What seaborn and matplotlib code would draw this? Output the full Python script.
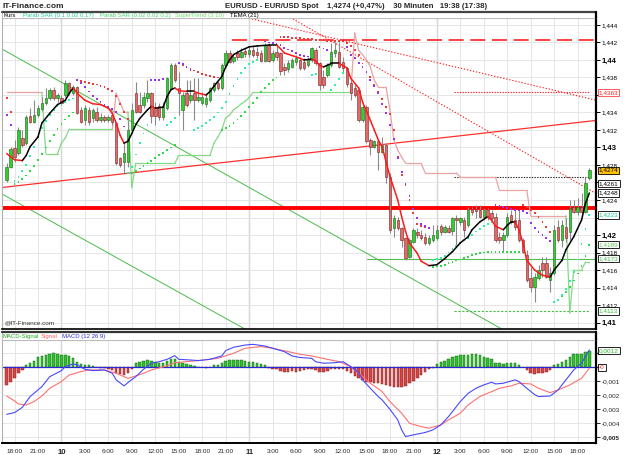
import numpy as np
import matplotlib
matplotlib.use("Agg")
import matplotlib.pyplot as plt
import seaborn as sns
from matplotlib.patches import Rectangle
from matplotlib.lines import Line2D

sns.set_theme(style="white")
plt.rcParams['font.family'] = ['Liberation Sans', 'DejaVu Sans']

# ---------------- data (30 min candles, 9th 17:00 -> 12th 19:30) ----------------
opens = [1.4263, 1.4278, 1.4299, 1.4294, 1.4311, 1.4305, 1.4336, 1.4329, 1.4337, 1.4344,
         1.4351, 1.4357, 1.4366, 1.4357, 1.4357, 1.4360, 1.4374, 1.4362, 1.4369, 1.4343,
         1.4331, 1.4343, 1.4334, 1.4341, 1.4331, 1.4335, 1.4331, 1.4337, 1.4328, 1.4288,
         1.4283, 1.4283, 1.4320, 1.4362, 1.4349, 1.4349, 1.4357, 1.4362, 1.4345, 1.4347,
         1.4335, 1.4345, 1.4367, 1.4394, 1.4368, 1.4343, 1.4362, 1.4354, 1.4362, 1.4354,
         1.4351, 1.4350, 1.4354, 1.4366, 1.4374, 1.4368, 1.4394, 1.4408, 1.4399, 1.4408,
         1.4403, 1.4410, 1.4407, 1.4411, 1.4409, 1.4408, 1.4399, 1.4417, 1.4400, 1.4409,
         1.4408, 1.4392, 1.4390, 1.4392, 1.4398, 1.4400, 1.4398, 1.4394, 1.4400, 1.4411,
         1.4397, 1.4381, 1.4383, 1.4394, 1.4408, 1.4409, 1.4398, 1.4391, 1.4374, 1.4368,
         1.4366, 1.4331, 1.4346, 1.4309, 1.4301, 1.4307, 1.4295, 1.4303, 1.4266, 1.4208,
         1.4217, 1.4208, 1.4197, 1.4175, 1.4192, 1.4203, 1.4200, 1.4198, 1.4191, 1.4194,
         1.4197, 1.4210, 1.4203, 1.4208, 1.4205, 1.4219, 1.4215, 1.4217, 1.4211, 1.4230,
         1.4230, 1.4229, 1.4221, 1.4229, 1.4225, 1.4221, 1.4198, 1.4194, 1.4200, 1.4223,
         1.4217, 1.4217, 1.4194, 1.4177, 1.4151, 1.4141, 1.4151, 1.4168, 1.4168, 1.4149,
         1.4157, 1.4209, 1.4194, 1.4209, 1.4203, 1.4232, 1.4226, 1.4232, 1.4226, 1.4265]
closes = [1.4278, 1.4298, 1.4289, 1.4320, 1.4303, 1.4335, 1.4329, 1.4337, 1.4345, 1.4351,
          1.4357, 1.4366, 1.4357, 1.4360, 1.4351, 1.4374, 1.4363, 1.4369, 1.4339, 1.4329,
          1.4345, 1.4329, 1.4343, 1.4331, 1.4335, 1.4331, 1.4335, 1.4329, 1.4282, 1.4280,
          1.4294, 1.4320, 1.4343, 1.4341, 1.4341, 1.4358, 1.4362, 1.4336, 1.4336, 1.4335,
          1.4347, 1.4379, 1.4394, 1.4377, 1.4362, 1.4360, 1.4349, 1.4360, 1.4354, 1.4358,
          1.4358, 1.4357, 1.4368, 1.4374, 1.4368, 1.4394, 1.4408, 1.4398, 1.4403, 1.4403,
          1.4409, 1.4407, 1.4411, 1.4406, 1.4406, 1.4399, 1.4417, 1.4399, 1.4408, 1.4403,
          1.4387, 1.4389, 1.4397, 1.4400, 1.4402, 1.4391, 1.4391, 1.4401, 1.4414, 1.4397,
          1.4371, 1.4371, 1.4394, 1.4409, 1.4411, 1.4392, 1.4391, 1.4373, 1.4362, 1.4360,
          1.4331, 1.4346, 1.4307, 1.4301, 1.4307, 1.4295, 1.4303, 1.4266, 1.4206, 1.4219,
          1.4208, 1.4194, 1.4174, 1.4194, 1.4206, 1.4200, 1.4197, 1.4191, 1.4197, 1.4200,
          1.4206, 1.4203, 1.4209, 1.4203, 1.4219, 1.4217, 1.4219, 1.4206, 1.4229, 1.4226,
          1.4227, 1.4221, 1.4229, 1.4221, 1.4219, 1.4194, 1.4194, 1.4200, 1.4221, 1.4215,
          1.4209, 1.4194, 1.4181, 1.4149, 1.4141, 1.4152, 1.4160, 1.4160, 1.4152, 1.4157,
          1.4206, 1.4194, 1.4211, 1.4197, 1.4231, 1.4226, 1.4232, 1.4226, 1.4259, 1.4274]
highs = [1.4282, 1.4301, 1.4309, 1.4323, 1.4320, 1.4337, 1.4345, 1.4354, 1.4349, 1.4358,
         1.4368, 1.4368, 1.4369, 1.4362, 1.4360, 1.4377, 1.4375, 1.4371, 1.4370, 1.4346,
         1.4349, 1.4346, 1.4345, 1.4346, 1.4339, 1.4337, 1.4337, 1.4341, 1.4329, 1.4289,
         1.4305, 1.4331, 1.4351, 1.4375, 1.4363, 1.4363, 1.4377, 1.4363, 1.4352, 1.4351,
         1.4352, 1.4381, 1.4397, 1.4397, 1.4386, 1.4363, 1.4377, 1.4377, 1.4379, 1.4379,
         1.4363, 1.4360, 1.4369, 1.4375, 1.4377, 1.4397, 1.4411, 1.4411, 1.4408, 1.4411,
         1.4414, 1.4414, 1.4415, 1.4417, 1.4415, 1.4411, 1.4419, 1.4419, 1.4411, 1.4417,
         1.4409, 1.4397, 1.4400, 1.4402, 1.4406, 1.4402, 1.4402, 1.4403, 1.4415, 1.4414,
         1.4398, 1.4389, 1.4397, 1.4419, 1.4421, 1.4421, 1.4403, 1.4392, 1.4377, 1.4374,
         1.4368, 1.4349, 1.4349, 1.4311, 1.4309, 1.4309, 1.4312, 1.4305, 1.4271, 1.4223,
         1.4221, 1.4209, 1.4198, 1.4197, 1.4208, 1.4208, 1.4206, 1.4202, 1.4200, 1.4211,
         1.4211, 1.4213, 1.4211, 1.4211, 1.4221, 1.4223, 1.4221, 1.4221, 1.4232, 1.4232,
         1.4234, 1.4234, 1.4231, 1.4231, 1.4229, 1.4225, 1.4203, 1.4203, 1.4225, 1.4229,
         1.4229, 1.4229, 1.4197, 1.4183, 1.4163, 1.4157, 1.4166, 1.4175, 1.4175, 1.4163,
         1.4211, 1.4217, 1.4217, 1.4219, 1.4240, 1.4240, 1.4242, 1.4248, 1.4266, 1.4277]
lows = [1.4261, 1.4277, 1.4283, 1.4291, 1.4301, 1.4303, 1.4328, 1.4328, 1.4335, 1.4342,
        1.4349, 1.4354, 1.4354, 1.4352, 1.4349, 1.4358, 1.4360, 1.4360, 1.4338, 1.4328,
        1.4326, 1.4326, 1.4329, 1.4329, 1.4329, 1.4329, 1.4329, 1.4326, 1.4280, 1.4278,
        1.4271, 1.4278, 1.4317, 1.4339, 1.4339, 1.4345, 1.4352, 1.4328, 1.4326, 1.4331,
        1.4331, 1.4343, 1.4366, 1.4375, 1.4337, 1.4320, 1.4346, 1.4351, 1.4331, 1.4352,
        1.4349, 1.4346, 1.4352, 1.4363, 1.4366, 1.4366, 1.4392, 1.4397, 1.4397, 1.4400,
        1.4402, 1.4403, 1.4403, 1.4403, 1.4402, 1.4398, 1.4398, 1.4398, 1.4398, 1.4400,
        1.4383, 1.4383, 1.4386, 1.4391, 1.4394, 1.4389, 1.4389, 1.4392, 1.4398, 1.4394,
        1.4366, 1.4368, 1.4381, 1.4392, 1.4403, 1.4391, 1.4386, 1.4369, 1.4354, 1.4358,
        1.4329, 1.4329, 1.4305, 1.4291, 1.4299, 1.4274, 1.4294, 1.4259, 1.4202, 1.4198,
        1.4206, 1.4186, 1.4171, 1.4174, 1.4191, 1.4197, 1.4194, 1.4189, 1.4189, 1.4192,
        1.4194, 1.4200, 1.4202, 1.4202, 1.4200, 1.4189, 1.4211, 1.4198, 1.4209, 1.4223,
        1.4219, 1.4219, 1.4217, 1.4217, 1.4217, 1.4192, 1.4191, 1.4181, 1.4198, 1.4213,
        1.4206, 1.4192, 1.4179, 1.4146, 1.4135, 1.4123, 1.4149, 1.4152, 1.4151, 1.4135,
        1.4154, 1.4192, 1.4186, 1.4192, 1.4194, 1.4225, 1.4223, 1.4225, 1.4225, 1.4263]

# TEMA (21): candle index / price
tema_idx = [0, 2, 4, 5, 6, 8, 9, 11, 13, 15, 16, 17, 18, 20, 22, 24, 26, 27, 28, 29, 30, 31, 32, 33, 34,
            36, 37, 38, 40, 41, 42, 43, 44, 46, 48, 49, 51, 52, 53, 55, 56, 57, 58, 60, 62, 64, 67, 69,
            70, 71, 73, 75, 76, 78, 79, 80, 81, 83, 85, 87, 88, 90, 91, 93, 94, 95, 96, 97, 98, 100,
            101, 102, 103, 105, 106, 108, 110, 112, 114, 116, 118, 119, 121, 123, 124, 125, 127, 128,
            129, 130, 131, 132, 133, 135, 137, 139, 140, 142, 143, 145, 147, 148, 149]
tema_val = [1.4293, 1.4286, 1.4285, 1.4291, 1.4301, 1.4312, 1.4328, 1.4339, 1.4349, 1.4354, 1.4362,
            1.4368, 1.4362, 1.4354, 1.4350, 1.4349, 1.4345, 1.4339, 1.4328, 1.4314, 1.4305, 1.4307,
            1.4316, 1.4326, 1.4333, 1.4343, 1.4347, 1.4345, 1.4346, 1.4358, 1.4366, 1.4368, 1.4365,
            1.4364, 1.4364, 1.4362, 1.4360, 1.4364, 1.4370, 1.4381, 1.4392, 1.4400, 1.4406, 1.4411,
            1.4415, 1.4416, 1.4417, 1.4417, 1.4413, 1.4408, 1.4405, 1.4402, 1.4400, 1.4401, 1.4399,
            1.4394, 1.4392, 1.4396, 1.4396, 1.4391, 1.4379, 1.4368, 1.4352, 1.4331, 1.4320, 1.4309,
            1.4301, 1.4284, 1.4267, 1.4240, 1.4221, 1.4204, 1.4191, 1.4179, 1.4170, 1.4165, 1.4166,
            1.4173, 1.4181, 1.4191, 1.4198, 1.4206, 1.4215, 1.4221, 1.4217, 1.4210, 1.4206, 1.4211,
            1.4215, 1.4215, 1.4206, 1.4191, 1.4171, 1.4160, 1.4154, 1.4152, 1.4160, 1.4171, 1.4183,
            1.4198, 1.4217, 1.4236, 1.4248]

# Parabolic SAR (0.1 0.02 0.17), one dot per candle
sar_fast = ([1.4337, 1.4326] +
            [1.4262, 1.4266, 1.4273, 1.4280, 1.4290, 1.4301, 1.4312, 1.4322, 1.4330, 1.4337,
             1.4343, 1.4347, 1.4350, 1.4352, 1.4354, 1.4356] +
            [1.4377, 1.4374, 1.4369, 1.4364, 1.4359, 1.4355, 1.4352, 1.4349, 1.4346, 1.4344,
             1.4341, 1.4333, 1.4324] +
            [1.4271, 1.4278, 1.4292, 1.4305, 1.4316, 1.4326] +
            [1.4377, 1.4377, 1.4377, 1.4378] +
            [1.4326, 1.4329, 1.4334] +
            [1.4397, 1.4395, 1.4392, 1.4389] +
            [1.4320, 1.4322, 1.4325, 1.4328, 1.4331, 1.4335, 1.4340, 1.4345, 1.4352, 1.4361,
             1.4370, 1.4378, 1.4385, 1.4391, 1.4395, 1.4398, 1.4400, 1.4401] +
            [1.4421, 1.4420, 1.4419, 1.4418, 1.4417, 1.4414, 1.4412, 1.4410, 1.4408, 1.4406,
             1.4405, 1.4404] +
            [1.4383, 1.4384] +
            [1.4415, 1.4413, 1.4411] +
            [1.4366, 1.4371, 1.4378, 1.4385] +
            [1.4415, 1.4406, 1.4402, 1.4397, 1.4392, 1.4386, 1.4377, 1.4370, 1.4362, 1.4350,
             1.4339, 1.4326, 1.4310, 1.4288, 1.4272, 1.4258, 1.4245, 1.4230, 1.4219, 1.4213,
             1.4210, 1.4208] +
            [1.4171, 1.4173, 1.4174, 1.4176, 1.4180, 1.4184, 1.4187, 1.4191, 1.4194, 1.4197,
             1.4200, 1.4204, 1.4207, 1.4210, 1.4213, 1.4215] +
            [1.4234, 1.4233, 1.4232, 1.4231, 1.4230, 1.4229, 1.4228, 1.4227, 1.4225, 1.4214,
             1.4208, 1.4203, 1.4200, 1.4197, 1.4193] +
            [1.4123, 1.4126, 1.4131, 1.4138, 1.4147, 1.4158, 1.4172, 1.4190, 1.4207, 1.4223])
# Parabolic SAR (0.02 0.02 0.2)
sar_slow = ([1.4357, 1.4341] +
            [1.4258, 1.4261, 1.4264, 1.4268, 1.4273, 1.4279, 1.4286, 1.4293, 1.4300, 1.4307,
             1.4314, 1.4321, 1.4327, 1.4332, 1.4336, 1.4340] +
            [1.4377, 1.4376, 1.4375, 1.4374, 1.4373, 1.4372, 1.4370, 1.4369, 1.4367, 1.4365,
             1.4359, 1.4350, 1.4341, 1.4333] +
            [1.4271, 1.4273, 1.4276, 1.4279, 1.4282, 1.4285, 1.4288, 1.4291, 1.4294, 1.4297,
             1.4300, 1.4303] +
            [1.4396, 1.4394, 1.4392, 1.4390, 1.4388, 1.4386, 1.4384, 1.4383, 1.4382, 1.4381,
             1.4380] +
            [1.4320, 1.4322, 1.4325, 1.4328, 1.4332, 1.4336, 1.4341, 1.4346, 1.4351, 1.4357,
             1.4363, 1.4368, 1.4373, 1.4377, 1.4380] +
            [1.4426, 1.4426, 1.4426, 1.4425, 1.4425, 1.4425, 1.4424, 1.4424, 1.4424, 1.4423,
             1.4423, 1.4423, 1.4422, 1.4422, 1.4422, 1.4422, 1.4421, 1.4419, 1.4416] +
            [1.4411, 1.4406, 1.4396, 1.4386, 1.4381, 1.4372, 1.4363, 1.4355, 1.4346, 1.4338,
             1.4320, 1.4289, 1.4269, 1.4257, 1.4240, 1.4225, 1.4213, 1.4210, 1.4209, 1.4208] +
            [1.4163, 1.4164, 1.4165, 1.4166, 1.4168, 1.4169, 1.4171, 1.4172, 1.4174, 1.4175,
             1.4177, 1.4178, 1.4179, 1.4180, 1.4181, 1.4181, 1.4181, 1.4181, 1.4181, 1.4181,
             1.4181, 1.4181, 1.4181] +
            [1.4234, 1.4232, 1.4229, 1.4225, 1.4221, 1.4215, 1.4209, 1.4203] +
            [1.4123, 1.4126, 1.4130, 1.4135, 1.4141, 1.4148, 1.4156, 1.4165, 1.4176, 1.4189])

# SuperTrend (3 10), one value per candle, 1 = up (green), 0 = down (pink)
st_val = ([1.4363] * 10 + [1.4293] * 4 + [1.4305, 1.4311] + [1.4321] * 12 +
          [1.4362, 1.4351, 1.4341, 1.4341] + [1.4254] + [1.4282] * 11 + [1.4291] * 9 +
          [1.4305, 1.4312, 1.4320, 1.4334, 1.4337, 1.4343, 1.4346, 1.4350, 1.4353, 1.4357] +
          [1.4363] * 26 +
          [1.4431, 1.4411, 1.4406, 1.4400, 1.4392, 1.4377, 1.4369, 1.4369, 1.4369, 1.4343,
           1.4309, 1.4297, 1.4289] + [1.4282] * 5 + [1.4271] * 9 + [1.4266] * 10 +
          [1.4251] * 8 + [1.4222] * 10 + [1.4111, 1.4160, 1.4160, 1.4160, 1.4169, 1.4169])
st_up = ([0] * 10 + [1] * 18 + [0] * 4 + [1] * 57 + [0] * 55 + [1] * 6)

# MACD (12 26 9)
macd_idx = [0, 2, 4, 6, 9, 11, 14, 15, 17, 18, 20, 22, 25, 27, 28, 30, 31, 33, 35, 37, 39, 41, 43, 44,
            47, 49, 52, 55, 56, 58, 61, 63, 66, 68, 71, 73, 75, 78, 79, 81, 84, 86, 88, 90, 91, 93, 95,
            96, 98, 100, 101, 102, 104, 107, 109, 111, 113, 116, 118, 120, 122, 124, 125, 127, 130,
            131, 133, 135, 136, 139, 141, 143, 145, 147, 149]
macd_val = [-33.6, -32.4, -28.6, -20.9, -13.8, -6.7, -2.4, 0.5, 2.4, 1.7, -1.4, -2.4, -1.9, -4.3,
            -9.0, -13.3, -10.9, -6.7, -1.4, 2.9, 4.0, 5.7, 8.3, 5.7, 5.2, 4.8, 5.7, 8.1, 11.9, 14.3,
            15.9, 16.4, 15.2, 13.6, 11.2, 8.1, 7.0, 6.4, 4.0, 2.9, 3.3, 4.0, 0.5, -3.8, -9.0, -15.0,
            -20.9, -23.3, -30.0, -37.6, -44.7, -49.5, -48.3, -46.6, -44.7, -41.2, -35.2, -24.5,
            -18.6, -15.0, -12.6, -10.7, -11.9, -11.4, -9.0, -10.2, -15.0, -19.5, -20.9, -20.5,
            -16.2, -9.0, -1.9, 2.9, 12.4]
sig_idx = [0, 2, 3, 5, 7, 9, 11, 14, 16, 19, 21, 25, 28, 31, 32, 35, 37, 41, 43, 46, 49, 54, 58, 61,
           65, 68, 72, 75, 78, 82, 85, 88, 90, 93, 96, 98, 101, 103, 106, 108, 111, 113, 116, 118,
           121, 124, 126, 129, 131, 134, 136, 139, 141, 144, 147, 149]
sig_val = [-20.5, -24.0, -26.2, -26.9, -24.5, -20.5, -15.0, -10.2, -5.5, -3.1, -1.9, -1.9, -4.3,
           -7.9, -7.1, -4.3, -1.9, 1.0, 3.3, 4.0, 4.8, 6.4, 10.0, 13.6, 14.8, 13.6, 11.2, 9.3, 8.1,
           5.7, 4.0, 0.5, -4.3, -11.4, -17.4, -24.5, -32.8, -40.0, -42.4, -43.5, -41.2, -37.6,
           -32.8, -26.9, -20.9, -17.4, -15.0, -13.3, -11.4, -11.9, -15.0, -18.1, -16.2, -12.6,
           -7.9, -0.7]
hist_val = [-12.6, -10.2, -7.9, -4.3, -1.9, 1.7, 3.3, 4.8, 7.1, 8.1,
            9.0, 9.5, 10.0, 9.3, 8.6, 9.0, 8.1, 6.4, 4.0, 2.4,
            1.7, 1.4, 1.0, 0.5, -0.2, -0.5, -1.0, -1.9, -3.8, -5.0,
            -5.5, -3.8, -1.4, 2.9, 3.8, 4.8, 5.2, 4.3, 3.8, 2.9,
            3.3, 4.8, 6.0, 5.7, 4.0, 2.9, 2.4, 1.4, 1.0, 0.5,
            0.2, -0.7, 0.2, 1.7, 1.4, 2.9, 4.3, 5.0, 5.0, 5.0,
            5.0, 4.8, 3.8, 3.6, 2.9, 2.1, 1.4, -0.5, -1.0, -1.0,
            -2.4, -3.1, -3.1, -2.9, -3.1, -2.9, -1.9, -1.4, -1.2, -1.9,
            -3.1, -3.6, -2.4, -1.4, -1.0, -1.0, -1.4, -2.4, -4.3, -6.2,
            -7.9, -9.0, -10.2, -10.2, -10.9, -11.4, -11.9, -12.6, -13.3, -13.8,
            -13.8, -14.3, -13.3, -11.4, -9.5, -7.9, -5.5, -3.1, -1.4, -0.2,
            2.4, 4.0, 4.8, 5.7, 7.1, 8.1, 8.6, 8.8, 9.0, 9.3,
            9.3, 8.8, 7.6, 6.9, 5.7, 3.3, 2.9, 2.4, 2.9, 3.3,
            2.9, 1.4, 0.0, -1.9, -3.8, -4.8, -4.3, -3.8, -3.1, -1.9,
            1.7, 2.4, 4.0, 5.2, 7.1, 9.5, 9.8, 9.3, 10.7, 11.9]

# x axis labels (every 3 hours)
tick_idx = [2, 8, 14, 20, 26, 32, 38, 44, 50, 56, 62, 68, 74, 80, 86, 92, 98, 104, 110, 116,
            122, 128, 134, 140, 146]
tick_lab = ["18:00", "21:00", "10", "3:00", "6:00", "9:00", "12:00", "15:00", "18:00", "21:00",
            "11", "3:00", "6:00", "9:00", "12:00", "15:00", "18:00", "21:00", "12", "3:00",
            "6:00", "9:00", "12:00", "15:00", "18:00"]
day_idx = [14, 62, 110]

# drawn lines: (index, price) anchors
red_thick = 1.4231
red_dash = 1.4423
red_dot_h = 1.4363
black_dot_h = 1.4266
green_h = 1.4173
green_dash_h = 1.4113
red_trend = [(-1.2, 1.42543), (150.7, 1.43309)]
red_dot_a = [(62.7, 1.44469), (150.5, 1.43543)]
red_dot_b = [(73.2, 1.44469), (150.5, 1.42480)]
green_a = [(-1.2, 1.44125), (126.6, 1.40926)]
green_b = [(-1.2, 1.42469), (60.9, 1.40926)]

W, H = 625, 455
def fx(x): return x / W
def fy(y): return 1 - y / H
def fmt(v, nd=3): return f"{v:.{nd}f}".rstrip('0').rstrip('.').replace('.', ',')

fig = plt.figure(figsize=(6.25, 4.55), dpi=100)
fig.patch.set_facecolor('white')
ax = fig.add_axes([fx(2), fy(329), fx(594), (329 - 17.7) / H])
ax2 = fig.add_axes([fx(2), fy(443), fx(594), (443 - 340) / H])
XL = (-1.2, 150.7)

idx = np.arange(len(closes))
o = np.array(opens); c = np.array(closes); h = np.array(highs); l = np.array(lows)

# ---------------- main panel ----------------
ax.set_xlim(*XL)
ax.set_ylim(1.40926, 1.44483)
yt = np.round(np.arange(1.410, 1.4445, 0.002), 3)
covered = [1.436, 1.426, 1.422]   # hidden under the value boxes
ax.set_yticks(yt)
ax.set_yticklabels(['' if v in covered else fmt(v) for v in yt])
ax.yaxis.tick_right()
ax.tick_params(axis='y', direction='out', length=3, width=0.7, pad=1.2, labelsize=4.6, colors='black')
for t, v in zip(ax.get_yticklabels(), yt):
    if abs(v * 100 - round(v * 100)) < 1e-6:
        t.set_fontweight('bold'); t.set_fontsize(5.6)
ax.set_xticks(tick_idx)
ax.tick_params(axis='x', length=0, labelbottom=False)
ax.grid(True, color='#e2e2e2', lw=0.6)
for d in day_idx:
    ax.axvline(d, color='#a9a9a9', lw=0.9, zorder=0.5)
for s in ['left', 'top']:
    ax.spines[s].set_color('#b0b0b0'); ax.spines[s].set_linewidth(0.8)
ax.spines['right'].set_color('black'); ax.spines['right'].set_linewidth(1.6)
ax.spines['bottom'].set_color('black'); ax.spines['bottom'].set_linewidth(1.2)

# trend lines
ax.plot(*zip(*green_a), color='#4cbb4c', lw=0.7, zorder=1)
ax.plot(*zip(*green_b), color='#4cbb4c', lw=0.7, zorder=1)
ax.plot(*zip(*red_trend), color='#ff3030', lw=0.9, zorder=1)
ax.plot(*zip(*red_dot_a), color='#ff2020', lw=0.8, ls=(0, (1.2, 1.6)), zorder=1)
ax.plot(*zip(*red_dot_b), color='#ff2020', lw=0.8, ls=(0, (1.2, 1.6)), zorder=1)
ax.axhline(red_thick, color='#ff0000', lw=2.8, zorder=1.2)
ax.plot([57.6, XL[1]], [red_dash, red_dash], color='#ff2020', lw=1.2, ls=(0, (9, 4)), zorder=1)
ax.plot([114.5, 149.2], [red_dot_h, red_dot_h], color='#ff2020', lw=0.8, ls=(0, (1.2, 1.2)), zorder=1)
ax.plot([114.5, 149.2], [black_dot_h, black_dot_h], color='#222222', lw=0.8, ls=(0, (1.2, 1.2)), zorder=1)
ax.plot([92.2, XL[1]], [green_h, green_h], color='#55bb55', lw=0.8, zorder=1)
ax.plot([114.5, 149.2], [green_dash_h, green_dash_h], color='#44bb44', lw=0.8, ls=(0, (2, 1.5)), zorder=1)

# SuperTrend
for i in range(1, len(st_val)):
    col = '#86d986' if st_up[i] else '#eba3a3'
    ax.plot([i - 1, i], [st_val[i - 1], st_val[i]], color=col, lw=0.9, zorder=1.5)

# parabolic SAR dots (colour by side of the price)
for sar, c_up, c_dn in [(sar_slow, '#2fd84a', '#ee3a3a'), (sar_fast, '#2ff0a8', '#9a33f0')]:
    sv = np.array(sar)
    side = np.where(sv < c, 'up', 'dn')
    sns.scatterplot(x=idx, y=sv, hue=side, palette={'up': c_up, 'dn': c_dn}, marker='s', s=1.7,
                    linewidth=0, legend=False, ax=ax, zorder=2.5)
ax.set_xlabel(''); ax.set_ylabel('')

# candles
ax.vlines(idx, l, h, color='#8a8a8a', lw=0.8, zorder=2)
up = c >= o
body = np.maximum(np.abs(c - o), 0.00003)
ax.bar(idx[up], body[up], bottom=np.minimum(o, c)[up], width=0.62, color='#2fcf2f',
       edgecolor='#1f5f1f', lw=0.4, zorder=3)
ax.bar(idx[~up], body[~up], bottom=np.minimum(o, c)[~up], width=0.62, color='#e26a6a',
       edgecolor='#7a1f1f', lw=0.4, zorder=3)

# TEMA, black while rising, red while falling
for k in range(1, len(tema_idx)):
    col = 'black' if tema_val[k] >= tema_val[k - 1] else '#ff1a1a'
    ax.plot(tema_idx[k - 1:k + 1], tema_val[k - 1:k + 1], color=col, lw=1.1, zorder=4,
            solid_capstyle='round')

# value boxes on the right axis
boxes = [(1.4363, "1,4363", '#ff2020', 'white', '#ff4040'),
         (1.42585, "1,4261", 'black', 'white', 'black'),
         (1.4274, "1,4274", 'black', '#ffc200', 'black'),
         (1.4248, "1,4248", 'black', 'white', 'black'),
         (1.4223, "1,4223", '#10d080', 'white', 'black'),
         (1.4189, "1,4189", '#55cc55', 'white', 'black'),
         (1.4173, "1,4173", '#44bb44', 'white', 'black'),
         (1.4113, "1,4113", '#33bb33', 'white', 'black')]
for v, s, tc, fc, ec in boxes:
    ax.text(1.0045, v, s, transform=ax.get_yaxis_transform(), fontsize=4.6, color=tc,
            va='center', ha='left', clip_on=False, zorder=6,
            bbox=dict(boxstyle='square,pad=0.18', fc=fc, ec=ec, lw=0.6))
ax.text(0.004, 0.012, "@IT-Finance.com", transform=ax.transAxes, fontsize=4.6, color='#333333',
        va='bottom', ha='left')

# ---------------- MACD panel ----------------
ax2.set_xlim(*XL)
ax2.set_ylim(-0.00541, 0.00195)
hv = np.array(hist_val) * 1e-4
pos = hv >= 0
ax2.bar(idx[pos], hv[pos], width=0.62, color='#2fbf2f', edgecolor='#1c6e1c', lw=0.35, zorder=2)
ax2.bar(idx[~pos], hv[~pos], width=0.62, color='#d64545', edgecolor='#8a2020', lw=0.35, zorder=2)
ax2.axhline(0, color='#2a2ad0', lw=0.9, zorder=2.5)
sns.lineplot(x=sig_idx, y=np.array(sig_val) * 1e-4, ax=ax2, color='#ff7070', lw=0.8, zorder=3)
sns.lineplot(x=macd_idx, y=np.array(macd_val) * 1e-4, ax=ax2, color='#4848ff', lw=0.8, zorder=3)
ax2.set_xlabel(''); ax2.set_ylabel('')
mt = [-0.001, -0.002, -0.003, -0.004, -0.005]
ax2.set_yticks(mt)
ax2.set_yticklabels([fmt(v) for v in mt])
ax2.yaxis.tick_right()
ax2.tick_params(axis='y', direction='out', length=3, width=0.7, pad=1.2, labelsize=4.6)
ax2.get_yticklabels()[-1].set_fontweight('bold')
ax2.set_yticks([0.001, 0.0], minor=True)
ax2.set_xticks(tick_idx)
ax2.set_xticklabels(tick_lab)
ax2.tick_params(axis='x', direction='out', length=2.5, width=0.6, pad=1.5, labelsize=4.6)
for t, s in zip(ax2.get_xticklabels(), tick_lab):
    if ':' not in s:
        t.set_fontweight('bold'); t.set_fontsize(5.6)
ax2.grid(True, which='both', color='#e2e2e2', lw=0.6)
for d in day_idx:
    ax2.axvline(d, color='#a9a9a9', lw=0.9, zorder=0.5)
for s in ['left', 'top']:
    ax2.spines[s].set_color('#b0b0b0'); ax2.spines[s].set_linewidth(0.8)
ax2.spines['right'].set_color('black'); ax2.spines['right'].set_linewidth(1.6)
ax2.spines['bottom'].set_color('black'); ax2.spines['bottom'].set_linewidth(1.4)
ax2.text(1.0045, 0.0012, "0,0012", transform=ax2.get_yaxis_transform(), fontsize=4.6,
         color='#22bb22', va='center', ha='left', clip_on=False, zorder=6,
         bbox=dict(boxstyle='square,pad=0.18', fc='white', ec='black', lw=0.6))
ax2.text(1.0045, 0.0, "-0", transform=ax2.get_yaxis_transform(), fontsize=4.6,
         color='#ff3030', va='center', ha='left', clip_on=False, zorder=6,
         bbox=dict(boxstyle='square,pad=0.18', fc='white', ec='black', lw=0.6))

# ---------------- frames, header and legend rows ----------------
fig.add_artist(Rectangle((fx(2), fy(17.7)), fx(594), (17.7 - 12.3) / H, transform=fig.transFigure,
                         fc='white', ec='#bbbbbb', lw=0.7))
fig.add_artist(Line2D([fx(2), fx(596)], [fy(12.3), fy(12.3)], color='#444444', lw=1.6))
fig.add_artist(Line2D([fx(596), fx(596)], [fy(12.3), fy(17.7)], color='black', lw=1.6))
fig.add_artist(Rectangle((fx(2), fy(340)), fx(594), (340 - 332) / H, transform=fig.transFigure,
                         fc='white', ec='#bbbbbb', lw=0.7))
fig.add_artist(Line2D([fx(2), fx(596)], [fy(332), fy(332)], color='#333333', lw=1.6))
fig.add_artist(Line2D([fx(596), fx(596)], [fy(332), fy(340)], color='black', lw=1.6))

fig.text(fx(3), fy(6), "IT-Finance.com", fontsize=6, fontweight='bold', va='center', ha='left')
fig.text(fx(225), fy(6), "EURUSD - EUR/USD Spot    1,4274 (+0,47%)    30 Minuten   19:38 (17:38)",
         fontsize=5.6, fontweight='bold', va='center', ha='left')

leg_main = [(4, "Kurs", 'black'), (23, "Parab SAR (0.1 0.02 0.17)", '#1ed08a'),
            (100, "Parab SAR (0.02 0.02 0.2)", '#3fd56a'), (175, "SuperTrend (3 10)", '#6fdc6f'),
            (230, "TEMA (21)", 'black')]
for x0, s, col in leg_main:
    fig.text(fx(x0), fy(15.2), s, fontsize=4.3, color=col, va='center', ha='left')
leg_macd = [(3, "MACD-Signal", '#22aa22'), (41, "Signal", '#ff6060'), (62, "MACD (12 26 9)", '#3030dd')]
for x0, s, col in leg_macd:
    fig.text(fx(x0), fy(336.2), s, fontsize=4.3, color=col, va='center', ha='left')

fig.savefig('out.png', dpi=100)
